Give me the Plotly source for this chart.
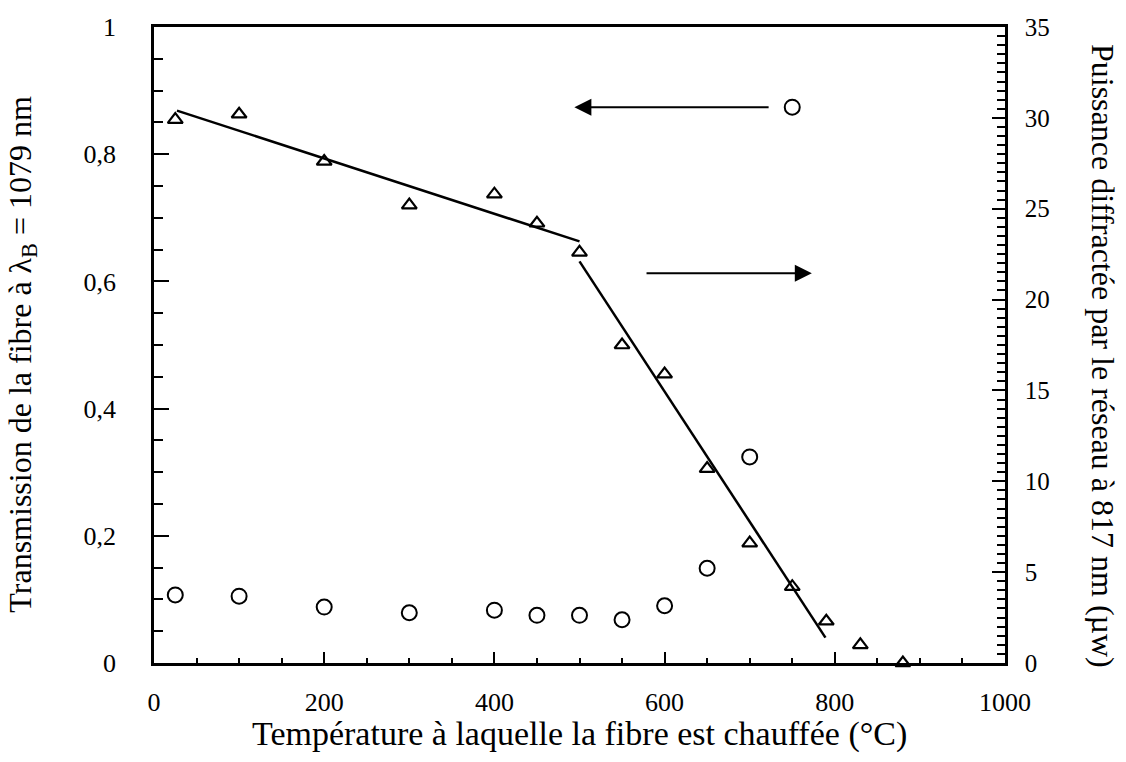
import plotly.graph_objects as go

# ---- data ----
temp_circles = [25, 100, 200, 300, 400, 450, 500, 550, 600, 650, 700]
transmission = [0.107, 0.105, 0.088, 0.079, 0.083, 0.075, 0.075, 0.068, 0.090, 0.149, 0.324]

temp_triangles = [25, 100, 200, 300, 400, 450, 500, 550, 600, 650, 700, 750, 790, 830, 880]
power_uw = [29.9, 30.2, 27.6, 25.2, 25.8, 24.2, 22.6, 17.5, 15.9, 10.7, 6.6, 4.2, 2.3, 1.0, 0.0]

fit1_x = [27, 500]
fit1_y = [30.4, 23.2]
fit2_x = [500, 789]
fit2_y = [22.1, 1.4]

legend_circle_x = [750]
legend_circle_y = [0.874]

x_tickvals = [0, 200, 400, 600, 800, 1000]
x_ticktext = ["0", "200", "400", "600", "800", "1000"]
y_tickvals = [0, 0.2, 0.4, 0.6, 0.8, 1.0]
y_ticktext = ["0", "0,2", "0,4", "0,6", "0,8", "1"]
y2_tickvals = [0, 5, 10, 15, 20, 25, 30, 35]
y2_ticktext = ["0", "5", "10", "15", "20", "25", "30", "35"]

SERIF = "Liberation Serif"
fig = go.Figure()

fig.add_trace(go.Scatter(x=temp_circles, y=transmission, mode="markers",
                         marker=dict(symbol="circle-open", size=15, color="black",
                                     line=dict(width=2, color="black")),
                         yaxis="y", showlegend=False, cliponaxis=False))
fig.add_trace(go.Scatter(x=legend_circle_x, y=legend_circle_y, mode="markers",
                         marker=dict(symbol="circle-open", size=15, color="black",
                                     line=dict(width=2, color="black")),
                         yaxis="y", showlegend=False))
fig.add_trace(go.Scatter(x=fit1_x, y=fit1_y, mode="lines",
                         line=dict(color="black", width=2.5), yaxis="y2", showlegend=False))
fig.add_trace(go.Scatter(x=fit2_x, y=fit2_y, mode="lines",
                         line=dict(color="black", width=2.5), yaxis="y2", showlegend=False))
fig.add_trace(go.Scatter(x=temp_triangles, y=power_uw, mode="markers",
                         marker=dict(symbol="triangle-up-open", size=13, color="black",
                                     line=dict(width=2.2, color="black")),
                         yaxis="y2", showlegend=False, cliponaxis=False))

fig.update_layout(
    width=1126, height=762,
    margin=dict(l=154, r=121, t=27, b=99),
    paper_bgcolor="white", plot_bgcolor="white",
    font=dict(family=SERIF, size=24, color="black"),
    xaxis=dict(range=[0, 1000], tickvals=x_tickvals, ticktext=x_ticktext,
               ticks="inside", ticklen=11, tickwidth=2, tickcolor="black",
               minor=dict(dtick=50, tick0=0, ticks="inside", ticklen=5, tickwidth=2, tickcolor="black"),
               showline=True, linewidth=2.5, linecolor="black", mirror=True,
               showgrid=False, zeroline=False, ticklabelstandoff=14,
               tickfont=dict(family=SERIF, size=26)),
    yaxis=dict(range=[0, 1], tickvals=y_tickvals, ticktext=y_ticktext,
               ticks="inside", ticklen=15, tickwidth=2, tickcolor="black",
               minor=dict(dtick=0.05, tick0=0, ticks="inside", ticklen=9, tickwidth=2, tickcolor="black"),
               showline=True, linewidth=2.5, linecolor="black",
               showgrid=False, zeroline=False, ticklabelstandoff=30,
               tickfont=dict(family=SERIF, size=26)),
    yaxis2=dict(range=[0, 35], overlaying="y", side="right",
                tickvals=y2_tickvals, ticktext=y2_ticktext,
                ticks="inside", ticklen=13, tickwidth=2, tickcolor="black",
                minor=dict(dtick=0.5, tick0=0, ticks="inside", ticklen=8, tickwidth=2, tickcolor="black"),
                showline=True, linewidth=2.5, linecolor="black",
                showgrid=False, zeroline=False, ticklabelstandoff=12,
                tickfont=dict(family=SERIF, size=25)),
)

# arrows
fig.add_annotation(x=494, y=0.874, ax=724, ay=0.874, xref="x", yref="y", axref="x", ayref="y",
                   showarrow=True, arrowhead=2, arrowsize=1.7, arrowwidth=2, arrowcolor="black", text="")
fig.add_annotation(x=773, y=0.613, ax=577, ay=0.613, xref="x", yref="y", axref="x", ayref="y",
                   showarrow=True, arrowhead=2, arrowsize=1.7, arrowwidth=2, arrowcolor="black", text="")

# axis titles
fig.add_annotation(text="Température à laquelle la fibre est chauffée (°C)",
                   xref="paper", yref="paper", x=0.5, y=-0.112, xanchor="center", yanchor="middle",
                   showarrow=False, font=dict(family=SERIF, size=34))
fig.add_annotation(text="Transmission de la fibre à λ<sub>B</sub> = 1079 nm",
                   xref="paper", yref="paper", x=-0.155, y=0.485, xanchor="center", yanchor="middle",
                   textangle=-90, showarrow=False, font=dict(family=SERIF, size=32))
fig.add_annotation(text="Puissance diffractée par le réseau à 817 nm (µw)",
                   xref="paper", yref="paper", x=1.115, y=0.483, xanchor="center", yanchor="middle",
                   textangle=90, showarrow=False, font=dict(family=SERIF, size=32))

fig.write_html("out.html")
